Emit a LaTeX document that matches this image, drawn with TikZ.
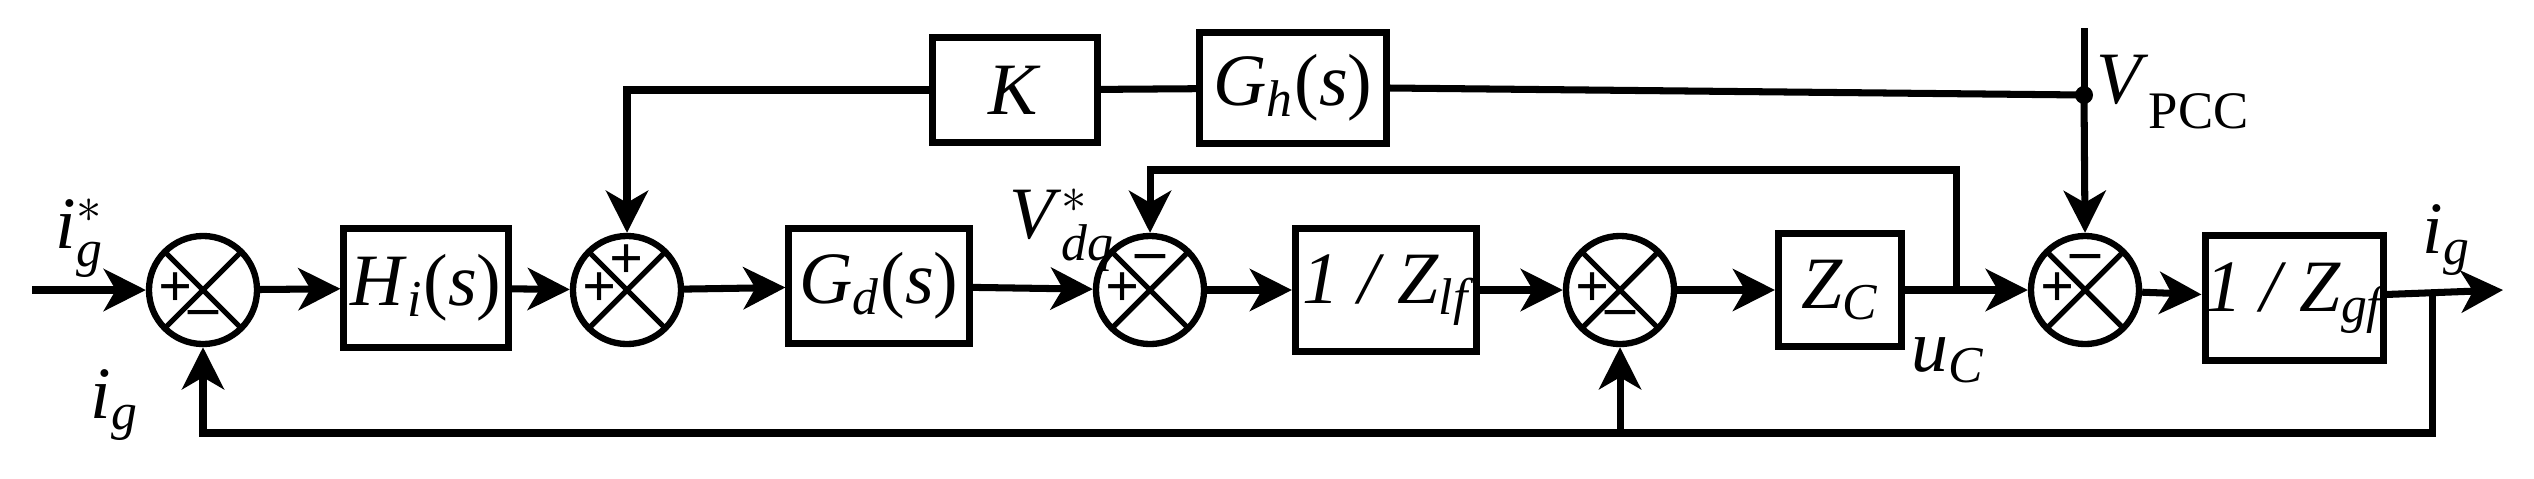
\documentclass[tikz,border=0pt]{standalone}
\usepackage{amsmath}
\usepackage{fontspec}
\setmainfont{Liberation Serif}
\usetikzlibrary{arrows.meta}
\newcommand{\ti}[1]{\textit{#1}}
\begin{document}
\begin{tikzpicture}[x=0.01cm,y=-0.01cm,
  every node/.style={font=\fontsize{21}{24}\selectfont},
  blk/.style={draw,line width=2pt,inner sep=0pt},
  sum/.style={draw,circle,line width=1.8pt,minimum size=1.08cm,inner sep=0pt,
    path picture={\draw[line width=1.5pt] (path picture bounding box.north west) -- (path picture bounding box.south east)
      (path picture bounding box.north east) -- (path picture bounding box.south west);}},
  ln/.style={line width=2pt},
  arr/.style={ln,-{Stealth[length=0.42cm,width=0.42cm,inset=0.12cm]}},
  sg/.style={font=\fontsize{17}{17}\bfseries\selectfont,inner sep=0pt}]
\useasboundingbox (0,0) rectangle (2534,478);
% sums
\node[sum] (s1) at (203,290) {};
\node[sum] (s2) at (627,290) {};
\node[sum] (s3) at (1150,290) {};
\node[sum] (s4) at (1620,290) {};
\node[sum] (s5) at (2085,290) {};
% signs
\foreach \s in {s1,s2,s3,s4,s5}{\node[sg] at ([xshift=-0.27cm]\s.center) {+};}
\node[sg] at ([yshift=-0.28cm]s1.center) {–};
\node[sg] at ([yshift=0.28cm]s2.center) {+};
\node[sg] at ([yshift=0.28cm]s3.center) {–};
\node[sg] at ([yshift=-0.28cm]s4.center) {–};
\node[sg] at ([yshift=0.28cm]s5.center) {–};
% blocks
\node[blk,minimum width=1.64cm,minimum height=1.18cm] (hi) at (426,288) {\ti{H}$_{\ti{i}}$(\ti{s})};
\node[blk,minimum width=1.80cm,minimum height=1.14cm] (gd) at (879,286) {\ti{G}$_{\ti{d}}$(\ti{s})};
\node[blk,minimum width=1.81cm,minimum height=1.22cm] (zlf) at (1386,290) {\ti{1 / Z}$_{\ti{lf}}$};
\node[blk,minimum width=1.23cm,minimum height=1.13cm] (zc) at (1840,290) {\ti{Z}$_{\ti{C}}$};
\node[blk,minimum width=1.74cm,minimum height=1.25cm] (zgf) at (2294,298) {\ti{1 / Z}$_{\ti{gf}}$};
\node[blk,minimum width=1.64cm,minimum height=1.05cm] (k) at (1015,90) {\ti{K}};
\node[blk,minimum width=1.86cm,minimum height=1.10cm] (gh) at (1293,88) {\ti{G}$_{\ti{h}}$(\ti{s})};
% coordinates
\coordinate (in) at (32,290);
\coordinate (out) at (2503,290);
\coordinate (jc) at (1956,290);
\coordinate (tc) at (1956,170);
\coordinate (jo) at (2432,290);
\coordinate (bo) at (2432,433);
\coordinate (b4) at (1620,433);
\coordinate (pcc) at (2084,95);
\coordinate (ptop) at (2084,28);
% connectors
\draw[arr] (in) -- (s1);
\draw[arr] (s1) -- (hi);
\draw[arr] (hi) -- (s2);
\draw[arr] (s2) -- (gd);
\draw[arr] (gd) -- (s3);
\draw[arr] (s3) -- (zlf);
\draw[arr] (zlf) -- (s4);
\draw[arr] (s4) -- (zc);
\draw[arr] (zc) -- (s5);
\draw[arr] (s5) -- (zgf);
\draw[arr] (zgf) -- (out);
\draw[arr] (k.west) -| (s2.north);
\draw[ln] (k) -- (gh);
\draw[ln] (gh.east) -- (pcc);
\draw[ln] (ptop) -- (pcc);
\draw[arr] (pcc) -- (s5.north);
\fill (pcc) circle (0.09cm);
\draw[arr] (jc) -- (tc) -| (s3.north);
\draw[arr] (jo) -- (bo) -| (s1.south);
\draw[arr] (b4) -- (s4.south);
% labels
\node at (80,238) {\ti{i}$_{\ti{g}}^{*}$};
\node at (115,405) {\ti{i}$_{\ti{g}}$};
\node at (1062,230) {\ti{V}$_{\ti{dq}}^{*}$};
\node at (1948,360) {\ti{u}$_{\ti{C}}$};
\node[anchor=west,inner sep=0pt] at (2096,92) {\ti{V}\raisebox{-0.35em}{\fontsize{15}{15}\selectfont PCC}};
\node at (2447,240) {\ti{i}$_{\ti{g}}$};
\end{tikzpicture}
\end{document}
